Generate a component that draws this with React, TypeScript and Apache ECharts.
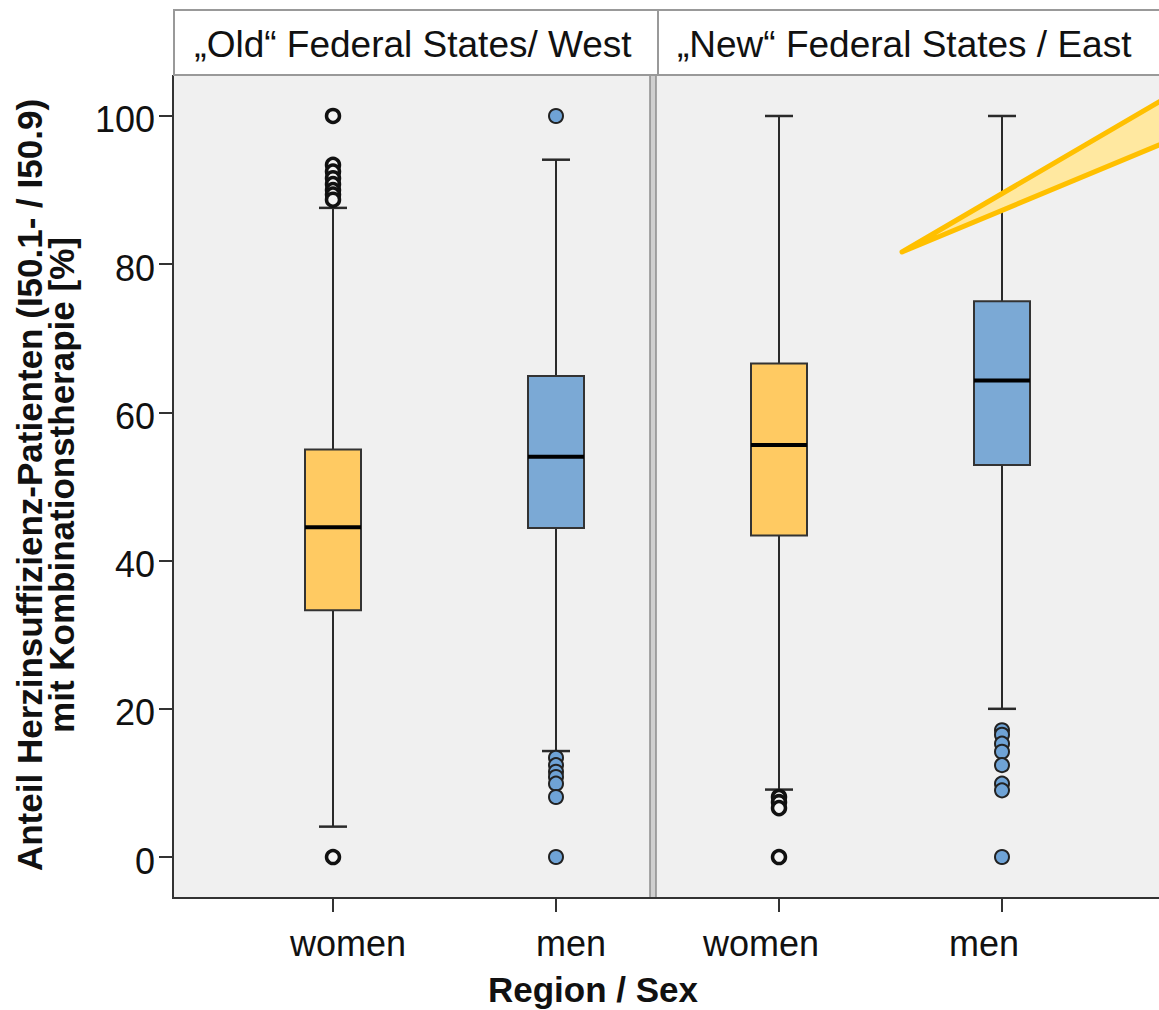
import React, { useEffect, useRef } from "react";
import * as echarts from "echarts";

const categories = ["women", "men", "women", "men"];
const regions = ["„Old“ Federal States/ West", "„New“ Federal States / East"];
const whiskerLow = [4.1, 14.3, 9.1, 20.0];
const q1 = [33.3, 44.4, 43.4, 52.9];
const median = [44.5, 54.0, 55.6, 64.3];
const q3 = [55.0, 64.9, 66.6, 75.0];
const whiskerHigh = [87.6, 94.1, 100, 100];
const outWestWomen = [100, 93.4, 92.5, 91.6, 90.8, 90.0, 89.4, 88.7, 0];
const outWestMen = [100, 13.4, 12.4, 11.5, 10.8, 9.9, 8.1, 0];
const outEastWomen = [8.1, 7.4, 6.6, 0];
const outEastMen = [17.1, 16.5, 15.3, 14.2, 12.4, 9.9, 9.0, 0];
const yTicks = [0, 20, 40, 60, 80, 100];
const yMin = -5.53;
const yMax = 105.53;

const FONT = '"Liberation Sans", Arial, sans-serif';
const YELLOW = "#FFCA62";
const BLUE = "#7BA9D5";

export default function App() {
  const ref = useRef<HTMLDivElement>(null);
  useEffect(() => {
    if (!ref.current) return;
    const chart = echarts.init(ref.current, undefined, { renderer: "svg" });
    const boxData = categories.map((_, i) => [i, whiskerLow[i], q1[i], median[i], q3[i], whiskerHigh[i]]);
    const womenOut = [
      ...outWestWomen.map((v) => [0, v]),
      ...outEastWomen.map((v) => [2, v]),
    ];
    const menOut = [
      ...outWestMen.map((v) => [1, v]),
      ...outEastMen.map((v) => [3, v]),
    ];
    const option: any = {
      animation: false,
      backgroundColor: "#ffffff",
      grid: { left: 221.5, right: 45.5, top: 75, bottom: 112 },
      xAxis: {
        type: "category",
        data: categories,
        axisLine: { show: false, onZero: false },
        axisTick: { show: true, alignWithLabel: true, interval: 0, length: 14, lineStyle: { color: "#333", width: 2 } },
        axisLabel: {
          interval: 0,
          margin: 27,
          color: "#111",
          fontSize: 36,
          fontFamily: FONT,
          formatter: (v: string, i: number) => (i < 2 ? `{w|${v}}` : `{e|${v}}`),
          rich: {
            w: { fontSize: 36, fontFamily: FONT, color: "#111", padding: [0, 0, 0, 30] },
            e: { fontSize: 36, fontFamily: FONT, color: "#111", padding: [0, 36, 0, 0] },
          },
        },
        splitLine: { show: false },
      },
      yAxis: {
        type: "value",
        min: yMin,
        max: yMax,
        offset: 48.5,
        axisLine: { show: false },
        axisTick: { show: true, length: 14, customValues: yTicks, lineStyle: { color: "#333", width: 2 } },
        axisLabel: {
          margin: 18,
          color: "#111",
          fontSize: 36,
          fontFamily: FONT,
          customValues: yTicks,
          formatter: (v: number) => `{t|${Math.round(v)}}`,
          rich: {
            t: { fontSize: 36, fontFamily: FONT, color: "#111", padding: [8, 0, 0, 0] },
          },
        },
        splitLine: { show: false },
      },
      graphic: [
        { type: "rect", z: -10, silent: true, shape: { x: 173, y: 75, width: 1000, height: 823 }, style: { fill: "#F0F0F0" } },
        { type: "rect", z: 10, silent: true, shape: { x: 650, y: 75, width: 6, height: 823 }, style: { fill: "#cfcfcf", stroke: "#8c8c8c", lineWidth: 1.5 } },
        { type: "line", z: 10, silent: true, shape: { x1: 173, y1: 75, x2: 173, y2: 899 }, style: { stroke: "#333", lineWidth: 2 } },
        { type: "line", z: 10, silent: true, shape: { x1: 172, y1: 898, x2: 1170, y2: 898 }, style: { stroke: "#333", lineWidth: 2 } },
        { type: "rect", z: 10, silent: true, shape: { x: 174, y: 10, width: 484, height: 65 }, style: { fill: "#ffffff", stroke: "#999", lineWidth: 2 } },
        { type: "rect", z: 10, silent: true, shape: { x: 658, y: 10, width: 560, height: 65 }, style: { fill: "#ffffff", stroke: "#999", lineWidth: 2 } },
        { type: "text", z: 11, silent: true, x: 413, y: 44, style: { text: regions[0], fontSize: 37, fontFamily: FONT, fill: "#111", textAlign: "center", textVerticalAlign: "middle" } },
        { type: "text", z: 11, silent: true, x: 677, y: 44, style: { text: regions[1], fontSize: 37, fontFamily: FONT, fill: "#111", textAlign: "left", textVerticalAlign: "middle" } },
        { type: "polygon", z: 12, silent: true, shape: { points: [[902, 252], [1200, 78], [1200, 128]] }, style: { fill: "#FFE8A0", stroke: "#FFC000", lineWidth: 5, lineJoin: "round" } },
        { type: "text", z: 11, silent: true, x: 45, y: 485, rotation: Math.PI / 2, style: { text: "Anteil Herzinsuffizienz-Patienten (I50.1- / I50.9)\nmit Kombinationstherapie [%]", fontSize: 35, fontWeight: "bold", fontFamily: FONT, fill: "#111", textAlign: "center", textVerticalAlign: "middle", lineHeight: 32 } },
        { type: "text", z: 11, silent: true, x: 593, y: 989, style: { text: "Region / Sex", fontSize: 35, fontWeight: "bold", fontFamily: FONT, fill: "#111", textAlign: "center", textVerticalAlign: "middle" } },
      ],
      series: [
        {
          type: "custom",
          z: 3,
          data: boxData,
          encode: { x: 0, y: [1, 2, 3, 4, 5] },
          renderItem: (params: any, api: any) => {
            const idx = api.value(0);
            const pLow = api.coord([idx, api.value(1)]);
            const pQ1 = api.coord([idx, api.value(2)]);
            const pMed = api.coord([idx, api.value(3)]);
            const pQ3 = api.coord([idx, api.value(4)]);
            const pHigh = api.coord([idx, api.value(5)]);
            const x = pMed[0];
            const hw = 28;
            const cw = 14;
            const fill = idx % 2 === 0 ? YELLOW : BLUE;
            const ls = { stroke: "#2a2a2a", lineWidth: 2 };
            return {
              type: "group",
              children: [
                { type: "line", shape: { x1: x, y1: pQ1[1], x2: x, y2: pLow[1] }, style: ls },
                { type: "line", shape: { x1: x, y1: pQ3[1], x2: x, y2: pHigh[1] }, style: ls },
                { type: "line", shape: { x1: x - cw, y1: pLow[1], x2: x + cw, y2: pLow[1] }, style: { stroke: "#2a2a2a", lineWidth: 2.5 } },
                { type: "line", shape: { x1: x - cw, y1: pHigh[1], x2: x + cw, y2: pHigh[1] }, style: { stroke: "#2a2a2a", lineWidth: 2.5 } },
                { type: "rect", shape: { x: x - hw, y: pQ3[1], width: hw * 2, height: pQ1[1] - pQ3[1] }, style: { fill, stroke: "#333", lineWidth: 2 } },
                { type: "line", shape: { x1: x - hw, y1: pMed[1], x2: x + hw, y2: pMed[1] }, style: { stroke: "#000", lineWidth: 4 } },
              ],
            };
          },
        },
        {
          type: "scatter",
          z: 4,
          data: womenOut,
          symbol: "circle",
          symbolSize: 13,
          itemStyle: { color: "#F4F4F4", borderColor: "#111", borderWidth: 3.5, opacity: 1 },
        },
        {
          type: "scatter",
          z: 4,
          data: menOut,
          symbol: "circle",
          symbolSize: 14,
          itemStyle: { color: "#6FA3D6", borderColor: "#222", borderWidth: 2, opacity: 1 },
        },
      ],
    };
    chart.setOption(option);
    return () => chart.dispose();
  }, []);
  return <div ref={ref} style={{ position: "fixed", left: 0, top: 0, width: 1159, height: 1010 }} />;
}
